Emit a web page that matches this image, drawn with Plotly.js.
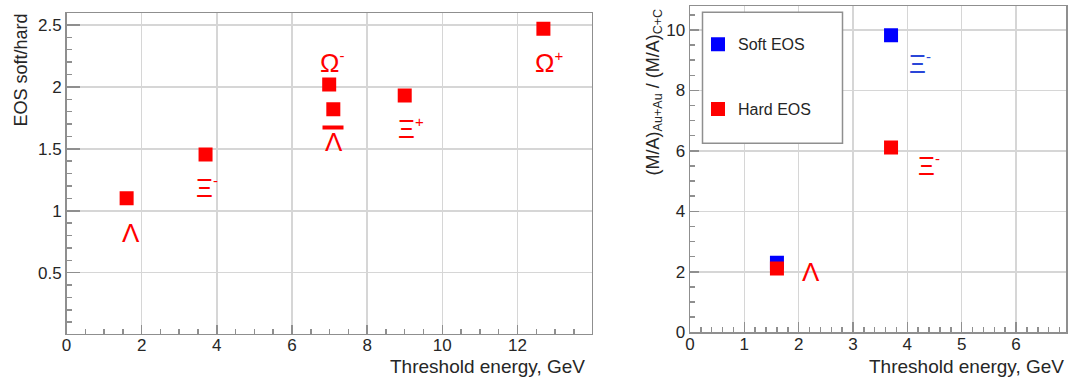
<!DOCTYPE html>
<html>
<head>
<meta charset="utf-8">
<script src="https://cdn.plot.ly/plotly-3.0.1.min.js"></script>
<style>html,body{margin:0;padding:0;background:#fff;}#chart{width:1068px;height:377px;}</style>
</head>
<body>
<div id="chart"></div>
<script>
// ---- data (left panel: EOS soft/hard ratio vs threshold energy) ----
const leftThreshold = [1.6, 3.7, 6.99, 7.1, 9.0, 12.69];
const leftRatio     = [1.10, 1.455, 2.02, 1.82, 1.93, 2.47];
const leftLabels    = ['Λ', 'Ξ<sup>-</sup>', 'Ω<sup>-</sup>', 'Λ', 'Ξ<sup>+</sup>', 'Ω<sup>+</sup>'];
const leftAntiFlag  = [false, false, false, true, false, false];

// ---- data (right panel: (M/A)Au+Au / (M/A)C+C vs threshold energy) ----
const rightThreshold = [1.6, 3.7];
const softRatio      = [2.30, 9.82];
const hardRatio      = [2.11, 6.11];
const softLabels     = ['', 'Ξ<sup>-</sup>'];
const hardLabels     = ['Λ', 'Ξ<sup>-</sup>'];

const seriesNames = ['Soft EOS', 'Hard EOS'];
const xTitle = 'Threshold energy, GeV';
const yTitleLeft = 'EOS soft/hard';
const yTitleRight = '(M/A)<sub>Au+Au</sub> / (M/A)<sub>C+C</sub>';

// ---- styles ----
const RED = '#ff0000', BLUE = '#0000ff';
const FONT = 'Liberation Sans, Arial, Helvetica, sans-serif';
const frame = '#8f8f8f', grid = '#d6d6d6', tickTxt = '#262626';

// smaller superscripts, as in the reference
function small(t) {
  return t.replace(/<sup>(.*?)<\/sup>/g, '<sup><span style="font-size:15px">$1</span></sup>');
}

// label pixel offsets (dx, dy-up) relative to each point
const leftOff  = [[-7,-35],[-12,-33],[-11,22],[-10,-33],[-9,-33],[-10,-34]];
const softOff  = [[0,0],[16,-28]];
const hardOff  = [[23,-4],[25,-18]];

const traces = [
  {x: leftThreshold, y: leftRatio, type: 'scatter', mode: 'markers', xaxis: 'x', yaxis: 'y',
   marker: {symbol: 'square', size: 14, color: RED}, showlegend: false, hoverinfo: 'skip'},
  {x: rightThreshold, y: softRatio, type: 'scatter', mode: 'markers', xaxis: 'x2', yaxis: 'y2',
   name: seriesNames[0], legendgroup: 'a',
   marker: {symbol: 'square', size: 14, color: BLUE}},
  {x: rightThreshold, y: hardRatio, type: 'scatter', mode: 'markers', xaxis: 'x2', yaxis: 'y2',
   name: seriesNames[1], legendgroup: 'b',
   marker: {symbol: 'square', size: 14, color: RED}}
];

const annotations = [];
function lab(xref, yref, x, y, text, off, color) {
  annotations.push({xref, yref, x, y, text: small(text), showarrow: false, xanchor: 'left', yanchor: 'middle',
    xshift: off[0], yshift: off[1], font: {family: FONT, size: 26, color}});
}
leftThreshold.forEach((xv, i) => {
  lab('x', 'y', xv, leftRatio[i], leftLabels[i], leftOff[i], RED);
  if (leftAntiFlag[i]) {
    annotations.push({xref: 'x', yref: 'y', x: xv, y: leftRatio[i], text: ' ', showarrow: false,
      xanchor: 'center', yanchor: 'middle', xshift: 0, yshift: -18, width: 20, height: 3,
      bgcolor: RED, borderpad: 0, font: {size: 1}});
  }
});
rightThreshold.forEach((xv, i) => {
  if (softLabels[i]) lab('x2', 'y2', xv, softRatio[i], softLabels[i], softOff[i], '#2a46d8');
  if (hardLabels[i]) lab('x2', 'y2', xv, hardRatio[i], hardLabels[i], hardOff[i], RED);
});
// axis titles (ROOT style: right / top aligned)
annotations.push({xref: 'paper', yref: 'paper', x: 587/1068, y: 1 - 366/377, text: xTitle, showarrow: false,
  xanchor: 'right', yanchor: 'middle', font: {family: FONT, size: 19, color: tickTxt}});
annotations.push({xref: 'paper', yref: 'paper', x: 1066/1068, y: 1 - 366/377, text: xTitle, showarrow: false,
  xanchor: 'right', yanchor: 'middle', font: {family: FONT, size: 19, color: tickTxt}});
annotations.push({xref: 'paper', yref: 'paper', x: 20/1068, y: 1 - 12/377, text: yTitleLeft, showarrow: false,
  textangle: -90, xanchor: 'center', yanchor: 'top', font: {family: FONT, size: 18, color: tickTxt}});
annotations.push({xref: 'paper', yref: 'paper', x: 654/1068, y: 1 - 7/377, text: yTitleRight, showarrow: false,
  textangle: -90, xanchor: 'center', yanchor: 'top', font: {family: FONT, size: 18, color: tickTxt}});

function ax(domain, range, dtick, minorDtick, majLen, anchor, standoff) {
  return {domain, range, dtick, tick0: 0, anchor, ticks: 'inside', ticklen: majLen, tickwidth: 1.5,
    tickcolor: frame, showline: true, linecolor: frame, linewidth: 1.5, mirror: true,
    showgrid: true, gridcolor: grid, gridwidth: 1.5, zeroline: false,
    ticklabelstandoff: standoff,
    tickfont: {family: FONT, size: 17, color: tickTxt},
    minor: {ticks: 'inside', dtick: minorDtick, ticklen: 5, tickwidth: 1.5, tickcolor: frame, showgrid: false},
    fixedrange: true};
}

const layout = {
  width: 1068, height: 377, margin: {l: 0, r: 0, t: 0, b: 0},
  paper_bgcolor: '#fff', plot_bgcolor: '#fff',
  font: {family: FONT, color: tickTxt},
  xaxis:  ax([66.5/1068, 591.5/1068], [0, 13.97], 2, 0.5, 9, 'y', -4),
  yaxis:  ax([1 - 333.5/377, 1 - 13.3/377], [0.009, 2.594], 0.5, 0.1, 13, 'x', 0),
  xaxis2: ax([690/1068, 1066/1068], [0, 6.92], 1, 0.2, 10, 'y2', -4),
  yaxis2: ax([1 - 332.3/377, 1 - 6/377], [0, 10.79], 2, 0.5, 9, 'x2', 0),
  shapes: [{type: 'rect', xref: 'paper', yref: 'paper', layer: 'above',
    x0: 702.5/1068, x1: 842.5/1068, y0: 1 - 143.3/377, y1: 1 - 12.3/377,
    fillcolor: '#fff', line: {color: frame, width: 1.5}}],
  showlegend: true,
  legend: {x: 698/1068, y: 1 - 27.3/377, xanchor: 'left', yanchor: 'top',
    bgcolor: 'rgba(0,0,0,0)', borderwidth: 0,
    font: {family: FONT, size: 16, color: tickTxt}, tracegroupgap: 41, traceorder: 'grouped'},
  annotations
};

Plotly.newPlot('chart', traces, layout, {staticPlot: true, displayModeBar: false});
</script>
</body>
</html>
